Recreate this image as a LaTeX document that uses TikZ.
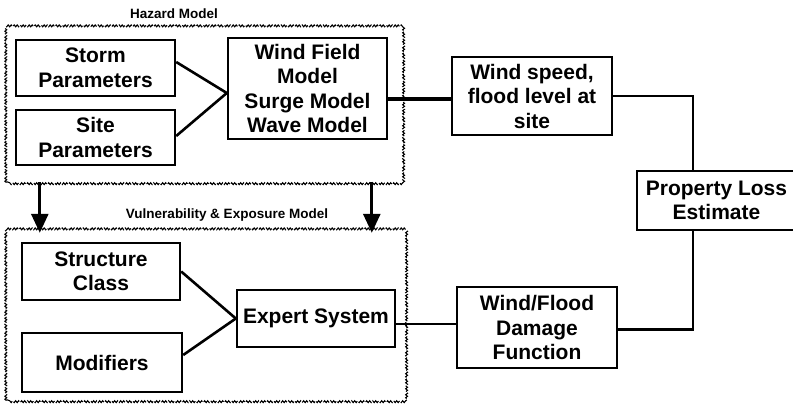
\documentclass[tikz,border=0pt]{standalone}
\usepackage{fontspec}
\setmainfont{Liberation Sans}
\usetikzlibrary{decorations.pathmorphing,arrows.meta,calc}
\begin{document}
\begin{tikzpicture}[x=1pt,y=-1pt,
  box/.style={draw, line width=2.4pt, rectangle, inner sep=0pt, align=center,
    font=\fontsize{21}{24.5}\selectfont\bfseries},
  container/.style={draw=none, rectangle, inner sep=0pt},
  wavy/.style={line width=1.1pt, decorate,
    decoration={snake, segment length=3pt, amplitude=0.9pt},
    dash pattern=on 9pt off 2pt},
  title/.style={font=\fontsize{13.5}{16}\selectfont\bfseries, inner sep=0pt},
  conn/.style={line width=2.6pt},
  arr/.style={line width=2.8pt, -{Triangle[length=19pt,width=17pt]}}
]
\useasboundingbox[fill=white] (0,0) rectangle (793,407);
\clip (0,0) rectangle (793,407);

% containers
\node[container, minimum width=395pt, minimum height=155pt] (hazard) at (203.5,104.5) {};
\node[container, minimum width=398pt, minimum height=170pt] (vuln) at (205,315) {};
\draw[wavy] (hazard.south west) rectangle (hazard.north east);
\draw[wavy] (vuln.south west) rectangle (vuln.north east);
\node[title] (hazt) at (174,14) {Hazard Model};
\node[title] (vult) at (227,215) {Vulnerability \& Exposure Model};

% boxes
\node[box, minimum width=159pt, minimum height=56pt] (storm) at (95.5,68) {Storm\\Parameters};
\node[box, minimum width=159pt, minimum height=55pt] (site) at (95.5,137.5) {Site\\Parameters};
\node[box, minimum width=159pt, minimum height=101pt] (wf) at (307.5,88.5) {Wind Field\\Model\\Surge Model\\Wave Model};
\node[box, minimum width=160pt, minimum height=78pt] (ws) at (532,96) {Wind speed,\\flood level at\\site};
\node[box, draw=none, minimum width=157pt, minimum height=57pt] (prop) at (716.5,200.5) {Property Loss\\Estimate};
\draw[line width=2.4pt] ([xshift=20pt]prop.north east) -- (prop.north west) -- (prop.south west) -- ([xshift=20pt]prop.south east);
\node[box, minimum width=158pt, minimum height=57pt] (struct) at (101,271.5) {Structure\\Class};
\node[box, minimum width=160pt, minimum height=59pt] (mod) at (102,362.5) {Modifiers};
\node[box, minimum width=158pt, minimum height=57pt] (expert) at (316,318.5) {Expert System};
\node[box, minimum width=160pt, minimum height=81pt] (dmg) at (537,327.5) {Wind/Flood\\Damage\\Function};

% connectors
\draw[conn] ([yshift=6pt]storm.east) -- ([yshift=-4.5pt]wf.west);
\draw[conn] ([yshift=1.5pt]site.east) -- ([yshift=-4.5pt]wf.west);
\draw[conn] (struct.east) -- (expert.west);
\draw[conn] ([yshift=7.5pt]mod.east) -- (expert.west);
\draw[line width=4.5pt] ($(wf.east |- ws.west)+(0,3)$) -- ($(ws.west)+(0,3)$);
\draw[line width=2.2pt] (ws.east) -| ([xshift=-23.5pt]prop.north);
\draw[conn] ([xshift=-23.5pt]prop.south) |- ([yshift=-2pt]dmg.east);
\draw[line width=2.2pt] ([yshift=-5.5pt]expert.east) -- ([yshift=-5.5pt]expert.east -| dmg.west);

% arrows between containers
\draw[arr] ([xshift=34pt]hazard.south west) -- ([xshift=34pt,yshift=-3pt]vuln.north west);
\draw[arr] ([xshift=366pt]hazard.south west) -- ([xshift=366pt,yshift=-3pt]vuln.north west);
\end{tikzpicture}
\end{document}
